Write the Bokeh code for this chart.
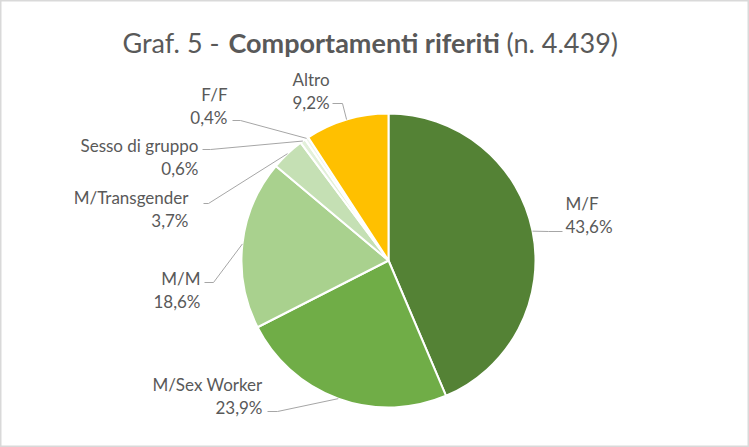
import math
from bokeh.plotting import figure
from bokeh.models import Range1d, ColumnDataSource
from bokeh.core.properties import value
from bokeh.embed import file_html
from bokeh.resources import INLINE

# ---------------- data ----------------
categories = ["M/F", "M/Sex Worker", "M/M", "M/Transgender", "Sesso di gruppo", "F/F", "Altro"]
percentages = [43.6, 23.9, 18.6, 3.7, 0.6, 0.4, 9.2]
colors = ["#548235", "#70AD47", "#A9D18E", "#C5E0B4", "#E2F0D9", "#EDF5E8", "#FFC000"]

title_pre = "Graf. 5 -"
title_bold = "Comportamenti riferiti"
title_post = "(n. 4.439)"

# ---------------- layout (screen px, y down) ----------------
W, H = 749, 447
CX, CY, R = 388, 260, 147
FONT = "Lato"
TXT = "#595959"

label_x = [565, 262, 200, 188, 198, 227, 292]
label_align = ["left", "right", "right", "right", "right", "right", "left"]
label_y1 = [203, 384, 278, 197, 145, 94, 79]
LINE_GAP = 23
lead_end_x = [562, 267, 204, 203, 202, 232, 332]
lead_elbow_x = [548, 277, 213, 208, 210, 240, 342]
lead_y = [231, 411, 282, 203, 149, 120, 103]


def Y(sy):
    return H - sy


# wedge angles (clockwise from 12 o'clock)
total = sum(percentages)
starts, ends, mids = [], [], []
cum = 0.0
for v in percentages:
    a0 = math.pi / 2 - 2 * math.pi * cum / total
    cum += v
    a1 = math.pi / 2 - 2 * math.pi * cum / total
    starts.append(a0)
    ends.append(a1)
    mids.append((a0 + a1) / 2)

src = ColumnDataSource(dict(start=starts, end=ends, color=colors, cat=categories))

p = figure(width=W, height=H, x_range=Range1d(0, W), y_range=Range1d(0, H),
           output_backend="svg", toolbar_location=None, min_border=0)
p.axis.visible = False
p.grid.visible = False
p.outline_line_color = "#D9D9D9"
p.outline_line_width = 2
p.background_fill_color = "white"
p.border_fill_color = "white"

p.wedge(x=CX, y=Y(CY), radius=R, start_angle="start", end_angle="end",
        direction="clock", fill_color="color", line_color="white",
        line_width=2, source=src)

# leader lines
xs, ys = [], []
for i, a in enumerate(mids):
    ax = CX + R * math.cos(a)
    ay = Y(CY) + R * math.sin(a)
    xs.append([ax, lead_elbow_x[i], lead_end_x[i]])
    ys.append([ay, Y(lead_y[i]), Y(lead_y[i])])
p.multi_line(xs=xs, ys=ys, line_color="#A6A6A6", line_width=1)

# labels
pct_text = [("%.1f" % v).replace(".", ",") + "%" for v in percentages]
for i, cat in enumerate(categories):
    p.text(x=[label_x[i], label_x[i]], y=[Y(label_y1[i]), Y(label_y1[i] + LINE_GAP)],
           text=[cat, pct_text[i]], text_align=label_align[i], text_baseline="middle",
           text_font=value(FONT), text_font_size="17px", text_color=TXT)

# title
ty = Y(42)
p.text(x=[219], y=[ty], text=[title_pre], text_align="right", text_baseline="middle",
       text_font=value(FONT), text_font_size="27px", text_color=TXT)
p.text(x=[228], y=[ty], text=[title_bold], text_align="left", text_baseline="middle",
       text_font=value(FONT), text_font_size="27px", text_font_style="bold", text_color=TXT)
p.text(x=[506], y=[ty], text=[title_post], text_align="left", text_baseline="middle",
       text_font=value(FONT), text_font_size="27px", text_color=TXT)

open("out.html", "w").write(file_html(p, INLINE))
